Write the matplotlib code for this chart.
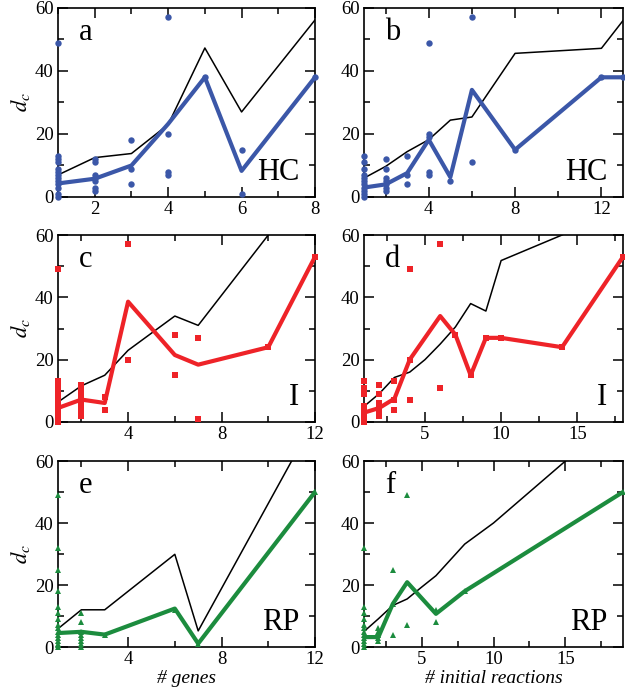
import numpy as np
import matplotlib
matplotlib.use("Agg")
import matplotlib.pyplot as plt
from matplotlib.ticker import MultipleLocator

plt.rcParams['font.family'] = ['Liberation Serif', 'DejaVu Serif']
plt.rcParams['mathtext.fontset'] = 'stix'

BLUE = '#3b57a8'
RED = '#ee2328'
GREEN = '#1c8c3e'

# ---- panel a : HC vs # genes
a_ref_x = [1, 2, 3, 4, 5, 6, 8]
a_ref_y = [7, 12.5, 13.8, 23, 47.3, 27, 56.2]
a_avg_x = [1, 2, 3, 4, 5, 6, 8]
a_avg_y = [4.3, 5.8, 10, 23.2, 38, 8.3, 38]
a_pts_x = [1]*13 + [2]*7 + [3]*3 + [4]*4 + [5, 6, 6, 8]
a_pts_y = [49, 13, 12, 11, 9, 8, 7, 6, 5, 4, 3, 1, 0,
           12, 11, 7, 6, 5, 3, 2,
           18, 9, 4,
           57, 20, 8, 7,
           38, 15, 1, 38]

# ---- panel b : HC vs # initial reactions
b_ref_x = [1, 2, 3, 4, 5, 6, 8, 12, 13]
b_ref_y = [6, 9.7, 14.4, 18.2, 24.4, 25.4, 45.6, 47.2, 56]
b_avg_x = [1, 2, 3, 4, 5, 6, 8, 12, 13]
b_avg_y = [3, 4, 7.6, 18.2, 6.3, 34, 15, 38, 38]
b_pts_x = [1]*11 + [2]*7 + [3]*3 + [4]*5 + [5, 6, 6, 8, 12, 13]
b_pts_y = [13, 11, 9, 7, 6, 5, 4, 3, 2, 1, 0,
           12, 9, 6, 5, 4, 3, 2,
           13, 7, 4,
           49, 20, 19, 8, 7,
           5, 57, 11, 15, 38, 38]

# ---- panel c : I vs # genes
c_ref_x = [1, 2, 3, 4, 6, 7, 10, 12]
c_ref_y = [6.4, 11.6, 15, 23, 34, 31, 60, 80]
c_avg_x = [1, 2, 3, 4, 6, 7, 10, 12]
c_avg_y = [4.5, 7.2, 6.1, 38.6, 21.5, 18.4, 24, 53]
c_pts_x = [1]*15 + [2]*9 + [3]*2 + [4]*2 + [6, 6, 7, 7, 10, 12]
c_pts_y = [49, 13, 12, 11, 10, 9, 8, 7, 6, 5, 4, 3, 2, 1, 0,
           12, 11, 10, 9, 7, 5, 4, 3, 2,
           8, 4,
           57, 20,
           28, 15, 27, 1, 24, 53]

# ---- panel d : I vs # initial reactions
d_ref_x = [1, 2, 3, 4, 5, 6, 7, 8, 9, 10, 14, 18]
d_ref_y = [5, 9.1, 14.3, 16, 20, 25, 30.5, 38, 35.6, 51.8, 60, 70]
d_avg_x = [1, 2, 3, 4, 6, 7, 8, 9, 10, 14, 18]
d_avg_y = [3, 4.5, 7.5, 20, 34, 28, 15, 27, 27, 24, 53]
d_pts_x = [1]*10 + [2]*7 + [3]*3 + [4]*3 + [6, 6, 7, 8, 9, 10, 14, 18]
d_pts_y = [13, 11, 10, 9, 5, 4, 3, 2, 1, 0,
           12, 9, 6, 5, 4, 3, 2,
           13, 7, 4,
           49, 20, 7,
           57, 11, 28, 15, 27, 27, 24, 53]

# ---- panel e : RP vs # genes
e_ref_x = [1, 2, 3, 6, 7, 11, 12]
e_ref_y = [5.9, 12, 12, 29.9, 5.2, 60, 70]
e_avg_x = [1, 2, 3, 6, 7, 12]
e_avg_y = [4.5, 4.9, 4, 12.4, 1.1, 50]
e_pts_x = [1]*16 + [2]*8 + [3, 6, 7, 12]
e_pts_y = [49, 32, 25, 18, 13, 11, 9, 7, 6, 5, 4, 3, 2, 1, 0.5, 0,
           11, 8, 5, 4, 3, 2, 1, 0,
           4, 12, 1, 50]

# ---- panel f : RP vs # initial reactions
f_ref_x = [1, 2, 3, 4, 5, 6, 8, 10, 15, 19]
f_ref_y = [5, 9.1, 13.4, 15.5, 19.3, 23, 33.2, 40, 60, 76]
f_avg_x = [1, 2, 3, 4, 6, 8, 19]
f_avg_y = [3.2, 3.2, 13.9, 20.9, 10.7, 18, 50]
f_pts_x = [1]*12 + [2]*5 + [3]*3 + [4]*2 + [6, 6, 8, 19]
f_pts_y = [32, 13, 11, 9, 7, 6, 5, 4, 3, 2, 1, 0,
           6, 5, 4, 3, 2,
           25, 14, 4,
           49, 7,
           12, 8, 18, 50]

panels = [
    ('a', 'HC', BLUE, 'o', a_ref_x, a_ref_y, a_avg_x, a_avg_y, a_pts_x, a_pts_y, (1, 8), 2, 1),
    ('b', 'HC', BLUE, 'o', b_ref_x, b_ref_y, b_avg_x, b_avg_y, b_pts_x, b_pts_y, (1, 13), 4, 2),
    ('c', 'I', RED, 's', c_ref_x, c_ref_y, c_avg_x, c_avg_y, c_pts_x, c_pts_y, (1, 12), 4, 2),
    ('d', 'I', RED, 's', d_ref_x, d_ref_y, d_avg_x, d_avg_y, d_pts_x, d_pts_y, (1, 18), 5, 2.5),
    ('e', 'RP', GREEN, '^', e_ref_x, e_ref_y, e_avg_x, e_avg_y, e_pts_x, e_pts_y, (1, 12), 4, 2),
    ('f', 'RP', GREEN, '^', f_ref_x, f_ref_y, f_avg_x, f_avg_y, f_pts_x, f_pts_y, (1, 19), 5, 2.5),
]

fig = plt.figure(figsize=(6.25, 6.95), dpi=100)

W, H = 625.0, 695.0
lefts = [58, 364]
widths = [257, 259]
rows = [(8, 197), (235, 422), (461, 647)]

for i, (letter, tag, col, mk, rx, ry, ax_, ay_, px, py, xlim, major, minor) in enumerate(panels):
    r, c = divmod(i, 2)
    top, bot = rows[r]
    ax = fig.add_axes([lefts[c] / W, (H - bot) / H, widths[c] / W, (bot - top) / H])

    ax.plot(rx, ry, color='black', lw=1.1, zorder=2)
    ax.plot(ax_, ay_, color=col, lw=3.0, zorder=3)
    ms = 4.6 if mk == 'o' else (4.2 if mk == 's' else 5.0)
    ax.plot(px, py, ls='none', marker=mk, color=col, ms=ms, mew=0, zorder=4, clip_on=False)

    ax.set_xlim(*xlim)
    ax.set_ylim(0, 60)
    ax.xaxis.set_major_locator(MultipleLocator(major))
    ax.xaxis.set_minor_locator(MultipleLocator(minor))
    ax.yaxis.set_major_locator(MultipleLocator(20))
    ax.yaxis.set_minor_locator(MultipleLocator(10))
    ax.tick_params(which='both', direction='in', top=True, right=True, width=1.1,
                   labelsize=13.5, pad=3)
    ax.tick_params(which='major', length=7)
    ax.tick_params(which='minor', length=4)
    for s in ax.spines.values():
        s.set_linewidth(1.2)

    ax.text(0.08, 0.83, letter, transform=ax.transAxes, fontsize=22, ha='left', va='baseline')
    ax.text(0.94, 0.09, tag, transform=ax.transAxes, fontsize=22, ha='right', va='baseline')

    if c == 0:
        ax.set_ylabel(r'$d_c$', fontsize=16, labelpad=2)
    if r == 2:
        ax.set_xlabel('# genes' if c == 0 else '# initial reactions', fontsize=14,
                      style='italic', labelpad=1)

fig.savefig('out.png', dpi=100)
